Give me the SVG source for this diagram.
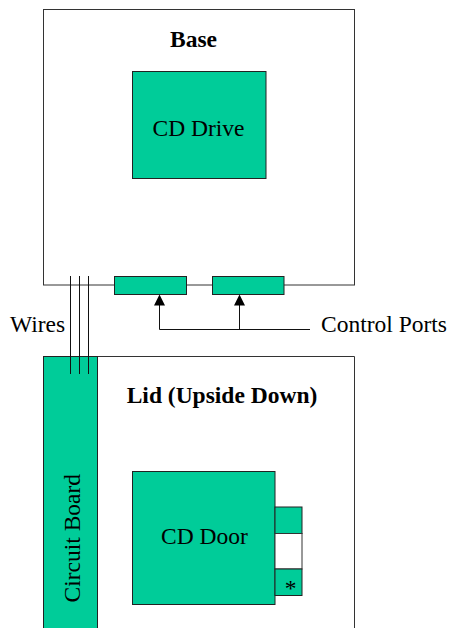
<svg xmlns="http://www.w3.org/2000/svg" width="451" height="628" viewBox="0 0 451 628">
<style>
.box{fill:#fff;stroke:#333;stroke-width:1}
.g{fill:#00cc99;stroke:#222;stroke-width:1}
.w{stroke:#111;stroke-width:1;fill:none}
text{font-family:"Liberation Serif","Times New Roman",serif;font-size:23.5px;fill:#000}
.b{font-weight:bold}
</style>
<rect width="451" height="628" fill="#fff"/>
<g id="base"><rect class="box" x="43.5" y="9.5" width="311" height="275.5"/><text class="b" x="193.500" y="47" text-anchor="middle">Base</text></g>
<g id="lid"><path class="box" d="M43.5 628V356.5H354.5V628"/><text class="b" x="222" y="403" text-anchor="middle">Lid (Upside Down)</text></g>
<g id="cd-drive"><rect class="g" x="132.500" y="71.500" width="133.500" height="107"/><text x="198.500" y="136" text-anchor="middle">CD Drive</text></g>
<g id="port-1"><rect class="g" x="114.500" y="276.500" width="72" height="18"/></g>
<g id="port-2"><rect class="g" x="212.500" y="276.500" width="71.500" height="18"/></g>
<g id="circuit-board"><rect class="g" x="43.500" y="356.500" width="54" height="280"/><text transform="translate(80 602.500) rotate(-90)">Circuit Board</text></g>
<g id="cd-door"><rect class="g" x="132.500" y="471.500" width="142.500" height="133"/><text x="204.500" y="544" text-anchor="middle">CD Door</text></g>
<g id="slot-top"><rect class="g" x="275" y="507" width="27" height="26.500"/></g>
<g id="slot-mid"><rect class="box" x="275" y="533.500" width="27" height="35.500"/></g>
<g id="slot-bottom"><rect class="g" x="275" y="569" width="27" height="26.500"/><text x="290.500" y="596" text-anchor="middle">*</text></g>
<g id="connectors">
<path class="w" d="M70.500 276V374M79.500 276V374M88.500 276V374"/>
<path class="w" d="M310 329.500H159.500V305"/>
<path class="w" d="M239.500 329.500V305"/>
<path d="M159.500 294.500l5.500 11h-11zM239.500 294.500l5.500 11h-11z" fill="#000"/>
</g>
<text id="wires" x="10" y="332">Wires</text>
<text id="control-ports" x="321" y="332">Control Ports</text>
</svg>
